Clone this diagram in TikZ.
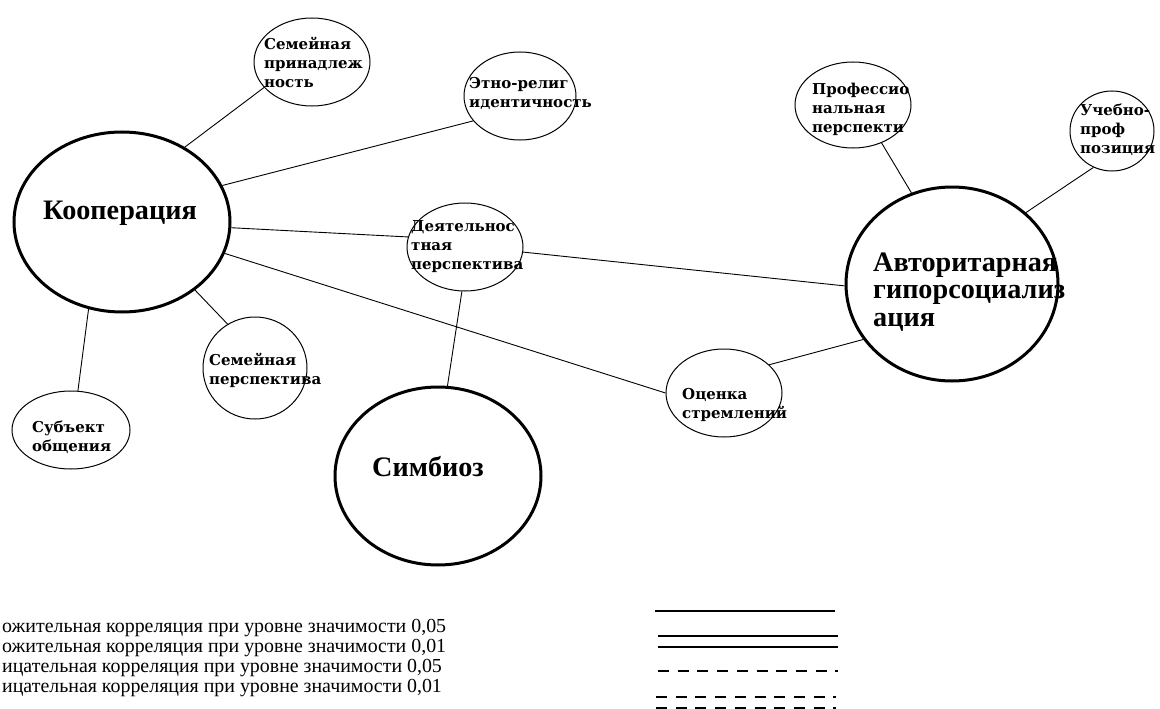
\documentclass[tikz,border=0pt]{standalone}
\usepackage{fontspec}
\setmainfont{Liberation Serif}
\newfontfamily\nodefont{DejaVu Serif}
\newfontfamily\bigfont{Liberation Serif}
\usetikzlibrary{shapes.geometric}
\begin{document}
\begin{tikzpicture}[x=1pt,y=-1pt,
  bub/.style={ellipse, draw, line width=1pt, inner sep=0pt},
  bigbub/.style={ellipse, draw, line width=3pt, inner sep=0pt},
  conn/.style={line width=0.9pt},
  smalltext/.style={font=\nodefont\bfseries\fontsize{15}{19}\selectfont, align=left, inner sep=0pt, anchor=west},
  bigtext/.style={font=\bigfont\bfseries\fontsize{28.2}{27.5}\selectfont, align=left, inner sep=0pt},
  legtext/.style={font=\fontsize{19.9}{22}\selectfont, inner sep=0pt, anchor=base west},
  legline/.style={line width=1.5pt},
  legdash/.style={line width=1.5pt, dash pattern=on 11pt off 8.7pt}
]
\useasboundingbox (0,0) rectangle (1160,709);
% ellipses
\node[bigbub, minimum width=216, minimum height=180] (koop) at (122,222) {};
\node[bub, minimum width=116, minimum height=88] (semprin) at (312,62) {};
\node[bub, minimum width=112, minimum height=88] (etno) at (520,96) {};
\node[bub, minimum width=116, minimum height=86] (prof) at (853,105) {};
\node[bub, minimum width=84, minimum height=80] (ucheb) at (1112,131) {};
\node[bub, minimum width=116, minimum height=88] (deyat) at (465,247) {};
\node[bigbub, minimum width=212, minimum height=194] (avtor) at (952,284) {};
\node[bigbub, minimum width=206, minimum height=178] (simb) at (438,476) {};
\node[bub, minimum width=104, minimum height=102] (sempersp) at (255,368) {};
\node[bub, minimum width=118, minimum height=78] (subj) at (71,430) {};
\node[bub, minimum width=116, minimum height=88] (ocenka) at (724,393) {};
% texts
\node[bigtext] (koop-t) at (120,213) {Кооперация};
\node[bigtext, anchor=west] (avtor-t) at (873,292) {Авторитарная\\гипорсоциализ\\ация};
\node[bigtext] (simb-t) at (428,467) {Симбиоз};
\node[smalltext] (semprin-t) at (264,62) {Семейная\\принадлеж\\ность};
\node[smalltext] (etno-t) at (469,93) {Этно-религ\\идентичность};
\node[smalltext] (prof-t) at (812,109) {Профессио\\нальная\\перспекти};
\node[smalltext] (ucheb-t) at (1080,130) {Учебно-\\проф\\позиция};
\node[smalltext] (deyat-t) at (411,247) {Деятельнос\\тная\\перспектива};
\node[smalltext] (sempersp-t) at (209,370) {Семейная\\перспектива};
\node[smalltext] (subj-t) at (32,437) {Субъект\\общения};
\node[smalltext] (ocenka-t) at (682,405) {Оценка\\стремлений};
% connectors
\draw[conn] (koop.50) -- (semprin.-152);
\draw[conn] (koop.20) -- (etno.-152);
\draw[conn] (koop.-3) -- (deyat.170);
\draw[conn] (koop.-17) -- (ocenka.180);
\draw[conn] (koop.-43) -- (sempersp.122);
\draw[conn] (koop.-111) -- (subj.80);
\draw[conn] (deyat.-5) -- (avtor.181);
\draw[conn] (deyat.-94) -- (simb.84);
\draw[conn] (ocenka.32) -- (avtor.-148);
\draw[conn] (prof.-53) -- (avtor.114);
\draw[conn] (ucheb.-117) -- (avtor.44);
% legend
\node[legtext] (leg1) at (2,632) {ожительная корреляция при уровне значимости 0,05};
\node[legtext] (leg2) at (2,652) {ожительная корреляция при уровне значимости 0,01};
\node[legtext] (leg3) at (2,672) {ицательная корреляция при уровне значимости 0,05};
\node[legtext] (leg4) at (2,692) {ицательная корреляция при уровне значимости 0,01};
\draw[legline] (655,611) -- (835,611);
\draw[legline] (658,636) -- (838,636);
\draw[legline] (658,647) -- (838,647);
\draw[legdash] (658,671) -- (838,671);
\draw[legdash] (656,697) -- (836,697);
\draw[legdash] (656,708) -- (836,708);
\end{tikzpicture}
\end{document}
